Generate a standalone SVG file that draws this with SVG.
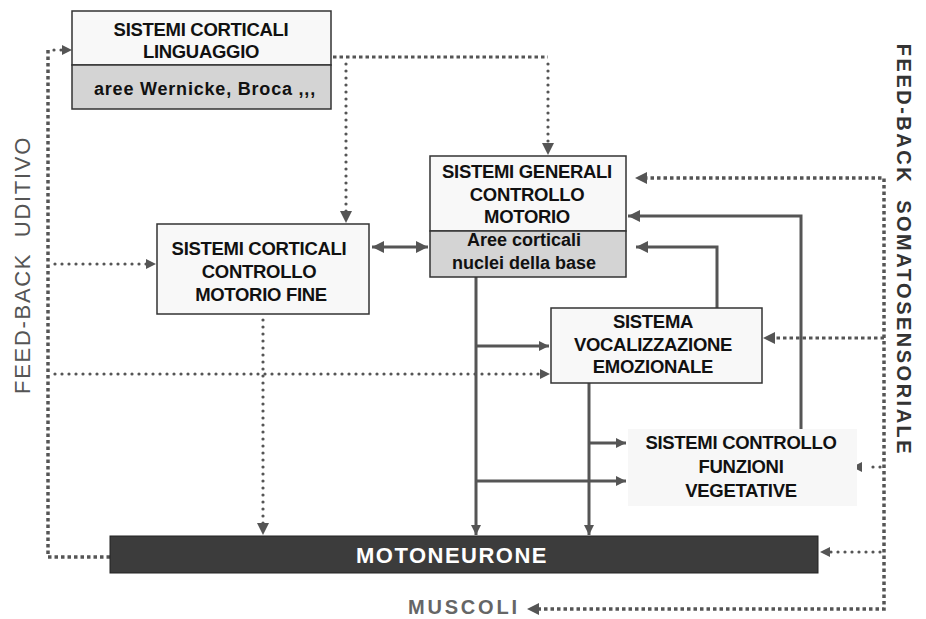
<svg xmlns="http://www.w3.org/2000/svg" width="926" height="619" viewBox="0 0 926 619">
<defs>
<style>
.box{fill:#f8f8f8;stroke:#333;stroke-width:1.5}
.sub{fill:#d4d4d4;stroke:#333;stroke-width:1.5}
.t{font-family:"Liberation Sans",Arial,sans-serif;font-weight:bold;font-size:18.5px;fill:#111;text-anchor:middle;letter-spacing:-0.3px}
.c{font-family:"Liberation Sans",Arial,sans-serif;font-weight:bold;font-size:18px;fill:#111;text-anchor:middle}
.solid{fill:none;stroke:#555;stroke-width:3}
.dot{fill:none;stroke:#555;stroke-width:3.2;stroke-dasharray:0 7;stroke-linecap:round}
.fb{fill:none;stroke:#555;stroke-width:3.5;stroke-dasharray:3.5 3}
</style>
<marker id="a" viewBox="0 0 10 10" refX="10" refY="5" markerWidth="10" markerHeight="10" markerUnits="userSpaceOnUse" orient="auto-start-reverse">
<path d="M0,0 L10,5 L0,10 z" fill="#555"/>
</marker>
<marker id="b" viewBox="0 0 10 10" refX="10" refY="5" markerWidth="12" markerHeight="12" markerUnits="userSpaceOnUse" orient="auto-start-reverse">
<path d="M0,0 L10,5 L0,10 z" fill="#555"/>
</marker>
</defs>

<g id="connectors">
<path class="fb" d="M110 557 H48 V50"/>
<path class="dot" d="M54 50 H64"/>
<path d="M62 50 H72" fill="none" stroke="none" marker-end="url(#a)"/>
<path class="dot" d="M55 264 H150"/>
<path d="M145 264 H156" fill="none" stroke="none" marker-end="url(#a)"/>
<path class="dot" d="M55 374 H544"/>
<path d="M540 374 H550" fill="none" stroke="none" marker-end="url(#a)"/>
<path class="fb" d="M333 57 H548" style="stroke-width:3"/>
<path class="dot" d="M548 64 V146"/>
<path d="M548 144 V155" fill="none" stroke="none" marker-end="url(#b)"/>
<path class="dot" d="M346 64 V213"/>
<path d="M346 211 V223" fill="none" stroke="none" marker-end="url(#b)"/>
<path class="dot" d="M263 320 V526"/>
<path d="M263 524 V535" fill="none" stroke="none" marker-end="url(#b)"/>

<path class="solid" d="M372 247 H428" marker-start="url(#b)" marker-end="url(#b)"/>
<path class="solid" d="M476 277 V535" marker-end="url(#a)"/>
<path class="solid" d="M476 346 H549" marker-end="url(#a)"/>
<path class="solid" d="M476 481 H626" marker-end="url(#a)"/>
<path class="solid" d="M589 383 V535" marker-end="url(#a)"/>
<path class="solid" d="M589 443 H626" marker-end="url(#a)"/>
<path class="solid" d="M717 308 V247 H636" marker-end="url(#b)"/>
<path class="solid" d="M801 429 V216 H628" marker-end="url(#b)"/>

<path class="fb" d="M644 178 H884 V609 H536"/>
<path d="M646 178 H635" fill="none" stroke="none" marker-end="url(#b)"/>
<path d="M537 609 H527" fill="none" stroke="none" marker-end="url(#b)"/>
<path class="fb" d="M884 338 H772" style="stroke-width:3"/>
<path d="M773 338 H763" fill="none" stroke="none" marker-end="url(#b)"/>
<path class="dot" d="M880 467 H866"/>
<path d="M862 467 H852" fill="none" stroke="none" marker-end="url(#a)"/>
<path class="dot" d="M880 552 H830"/>
<path d="M830 552 H820" fill="none" stroke="none" marker-end="url(#a)"/>
</g>

<g id="linguaggio">
<rect class="box" x="72" y="11" width="259" height="54"/>
<rect class="sub" x="72" y="65" width="259" height="44"/>
<text class="t" x="201" y="36">SISTEMI CORTICALI</text>
<text class="t" x="201" y="58">LINGUAGGIO</text>
<text class="c" x="205" y="95" font-size="20" letter-spacing="0.8">aree Wernicke, Broca ,,,</text>
</g>

<g id="fine">
<rect class="box" x="157" y="224" width="212" height="90"/>
<text class="t" x="259" y="255">SISTEMI CORTICALI</text>
<text class="t" x="259" y="278">CONTROLLO</text>
<text class="t" x="261" y="301">MOTORIO FINE</text>
</g>

<g id="generali">
<rect class="box" x="430" y="156" width="196" height="75"/>
<rect class="sub" x="430" y="231" width="196" height="46"/>
<text class="t" x="527" y="178">SISTEMI GENERALI</text>
<text class="t" x="527" y="201">CONTROLLO</text>
<text class="t" x="527" y="223">MOTORIO</text>
<text class="c" x="524" y="246">Aree corticali</text>
<text class="c" x="524" y="269">nuclei della base</text>
</g>

<g id="vocalizzazione">
<rect class="box" x="551" y="308" width="211" height="75"/>
<text class="t" x="653" y="328">SISTEMA</text>
<text class="t" x="653" y="351">VOCALIZZAZIONE</text>
<text class="t" x="653" y="373">EMOZIONALE</text>
</g>

<g id="vegetative">
<rect x="628" y="429" width="229" height="77" fill="#f7f7f7"/>
<text class="t" x="741" y="449">SISTEMI CONTROLLO</text>
<text class="t" x="741" y="473">FUNZIONI</text>
<text class="t" x="741" y="497">VEGETATIVE</text>
</g>

<g id="motoneurone">
<rect x="110" y="536" width="708" height="37" fill="#3c3c3c" stroke="#222" stroke-width="1"/>
<text x="452" y="563" font-family="'Liberation Sans',Arial,sans-serif" font-weight="bold" font-size="22" fill="#fff" text-anchor="middle" letter-spacing="1.5">MOTONEURONE</text>
</g>

<g id="muscoli">
<text x="408" y="614" font-family="'Liberation Sans',Arial,sans-serif" font-weight="bold" font-size="20" fill="#666" letter-spacing="2.8">MUSCOLI</text>
</g>

<g id="feedback-uditivo">
<text transform="translate(30 265) rotate(-90)" font-family="'Liberation Sans',Arial,sans-serif" font-size="22" fill="#555" text-anchor="middle" letter-spacing="1.7" xml:space="preserve">FEED-BACK  UDITIVO</text>
</g>

<g id="feedback-somatosensoriale">
<text transform="translate(897 250) rotate(90)" font-family="'Liberation Sans',Arial,sans-serif" font-weight="bold" font-size="20" fill="#333" text-anchor="middle" letter-spacing="2.5" xml:space="preserve">FEED-BACK  SOMATOSENSORIALE</text>
</g>
</svg>
